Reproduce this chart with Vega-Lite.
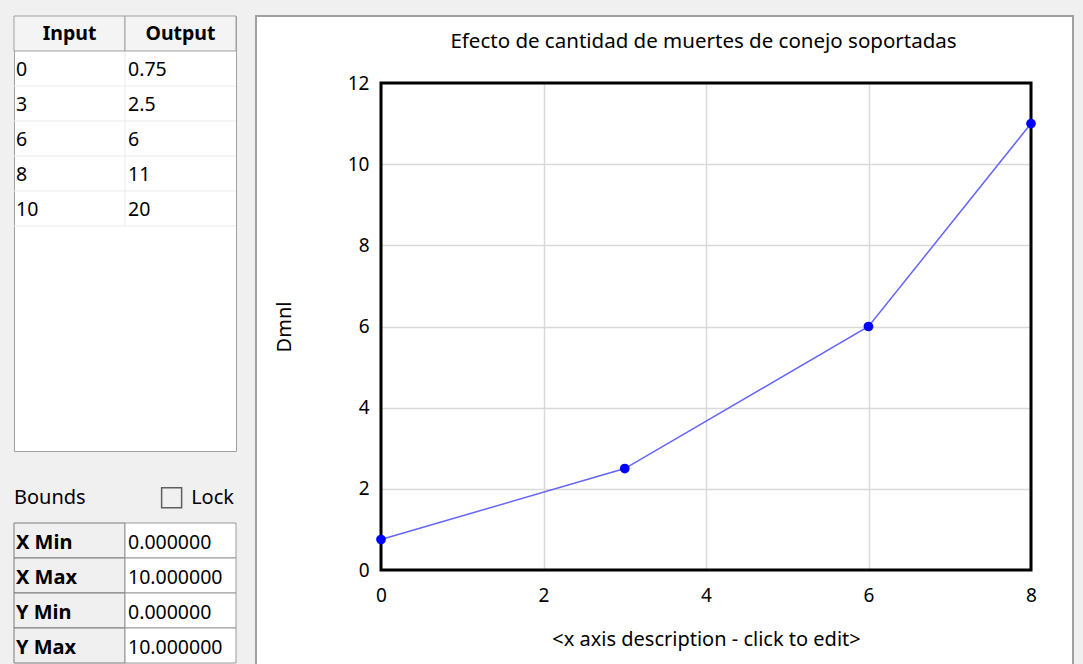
{
  "$schema": "https://vega.github.io/schema/vega-lite/v6.json",
  "background": "#f0f0f0",
  "padding": {"left": 13, "top": 15, "right": 10, "bottom": 0},
  "spacing": 18,
  "config": {
    "font": "Noto Sans",
    "text": {"font": "Noto Sans", "fontSize": 19.5, "fill": "black"}
  },
  "datasets": {
    "lookup": [
      {"input": 0, "output": 0.75},
      {"input": 3, "output": 2.5},
      {"input": 6, "output": 6},
      {"input": 8, "output": 11},
      {"input": 10, "output": 20}
    ],
    "tableHeader": [{"col": "Input"}, {"col": "Output"}],
    "bounds": [
      {"name": "X Min", "value": "0.000000"},
      {"name": "X Max", "value": "10.000000"},
      {"name": "Y Min", "value": "0.000000"},
      {"name": "Y Max", "value": "10.000000"}
    ],
    "boundsPanel": [{"title": "Bounds", "option": "Lock", "checked": false}]
  },
  "hconcat": [
    {
      "spacing": 32,
      "vconcat": [
        {
          "width": 222,
          "height": 435,
          "view": {"fill": "white", "stroke": "#a0a0a0", "strokeWidth": 1},
          "layer": [
            {
              "data": {"name": "lookup"},
              "mark": {"type": "rule", "color": "#ebebeb", "strokeWidth": 1},
              "encoding": {
                "y": {"field": "input", "type": "ordinal", "bandPosition": 1,
                  "scale": {"type": "band", "domain": ["header", 0, 3, 6, 8, 10, "e1", "e2", "e3", "e4", "e5"], "paddingInner": 0, "paddingOuter": 0.715, "align": 0},
                  "axis": null}
              }
            },
            {
              "data": {"name": "tableHeader"},
              "transform": [{"filter": "datum.col === 'Output'"}],
              "mark": {"type": "rule", "color": "#ebebeb", "strokeWidth": 1},
              "encoding": {
                "x": {"field": "col", "type": "nominal", "bandPosition": 0,
                  "scale": {"type": "band", "domain": ["Input", "Output"], "paddingInner": 0, "paddingOuter": 0},
                  "axis": null},
                "y": {"datum": "e1", "type": "ordinal", "bandPosition": 0},
                "y2": {"datum": "header"}
              }
            },
            {
              "data": {"name": "tableHeader"},
              "mark": {"type": "rect", "fill": "#f4f4f4", "stroke": "#a0a0a0", "strokeWidth": 1},
              "encoding": {
                "x": {"field": "col", "type": "nominal"},
                "y": {"datum": "header", "type": "ordinal"}
              }
            },
            {
              "data": {"name": "tableHeader"},
              "mark": {"type": "text", "fontWeight": "bold", "baseline": "middle", "align": "center", "dy": 1},
              "encoding": {
                "x": {"field": "col", "type": "nominal"},
                "y": {"datum": "header", "type": "ordinal"},
                "text": {"field": "col", "type": "nominal"}
              }
            },
            {
              "data": {"name": "lookup"},
              "mark": {"type": "text", "align": "left", "baseline": "middle", "dx": 2, "dy": 2},
              "encoding": {
                "x": {"datum": "Input", "type": "nominal", "bandPosition": 0},
                "y": {"field": "input", "type": "ordinal"},
                "text": {"field": "input", "type": "nominal"}
              }
            },
            {
              "data": {"name": "lookup"},
              "mark": {"type": "text", "align": "left", "baseline": "middle", "dx": 3, "dy": 2},
              "encoding": {
                "x": {"datum": "Output", "type": "nominal", "bandPosition": 0},
                "y": {"field": "input", "type": "ordinal"},
                "text": {"field": "output", "type": "nominal"}
              }
            }
          ]
        },
        {
          "width": 222,
          "height": 175,
          "view": {"stroke": null, "fill": "#f0f0f0"},
          "layer": [
            {
              "data": {"name": "bounds"},
              "mark": {"type": "rect", "fill": "#f0f0f0", "stroke": "#7a7a7a", "strokeWidth": 1},
              "encoding": {
                "x": {"datum": "label", "type": "nominal",
                  "scale": {"type": "band", "domain": ["label", "value"], "paddingInner": 0, "paddingOuter": 0},
                  "axis": null},
                "y": {"field": "name", "type": "ordinal",
                  "scale": {"type": "band", "domain": ["hdr", "X Min", "X Max", "Y Min", "Y Max"], "paddingInner": 0, "paddingOuter": 0},
                  "axis": null}
              }
            },
            {
              "data": {"name": "bounds"},
              "mark": {"type": "rect", "fill": "white", "stroke": "#9a9a9a", "strokeWidth": 1},
              "encoding": {
                "x": {"datum": "value", "type": "nominal"},
                "y": {"field": "name", "type": "ordinal"}
              }
            },
            {
              "data": {"name": "bounds"},
              "mark": {"type": "text", "fontWeight": "bold", "fontSize": 20, "align": "left", "baseline": "middle", "dx": 2, "dy": 2},
              "encoding": {
                "x": {"datum": "label", "type": "nominal", "bandPosition": 0},
                "y": {"field": "name", "type": "ordinal"},
                "text": {"field": "name", "type": "nominal"}
              }
            },
            {
              "data": {"name": "bounds"},
              "mark": {"type": "text", "align": "left", "baseline": "middle", "dx": 3, "dy": 2},
              "encoding": {
                "x": {"datum": "value", "type": "nominal", "bandPosition": 0},
                "y": {"field": "name", "type": "ordinal"},
                "text": {"field": "value", "type": "nominal"}
              }
            },
            {
              "data": {"name": "boundsPanel"},
              "mark": {"type": "text", "align": "left", "baseline": "middle", "fontSize": 20, "dx": 0},
              "encoding": {
                "x": {"datum": "label", "type": "nominal", "bandPosition": 0},
                "y": {"datum": "hdr", "type": "ordinal", "bandPosition": 0.28},
                "text": {"field": "title", "type": "nominal"}
              }
            },
            {
              "data": {"name": "boundsPanel"},
              "mark": {"type": "point", "shape": "square", "size": 400, "filled": false, "stroke": "#5f5f5f", "strokeWidth": 1.5, "opacity": 1},
              "encoding": {
                "x": {"datum": "value", "type": "nominal", "bandPosition": 0.42},
                "y": {"datum": "hdr", "type": "ordinal", "bandPosition": 0.28}
              }
            },
            {
              "data": {"name": "boundsPanel"},
              "mark": {"type": "text", "align": "right", "baseline": "middle", "fontSize": 20, "dx": -2},
              "encoding": {
                "x": {"datum": "value", "type": "nominal", "bandPosition": 1},
                "y": {"datum": "hdr", "type": "ordinal", "bandPosition": 0.28},
                "text": {"field": "option", "type": "nominal"}
              }
            }
          ]
        }
      ]
    },
    {
      "width": 817,
      "height": 660,
      "view": {"fill": "white", "stroke": "#a0a0a0", "strokeWidth": 2},
      "title": {
        "text": "Efecto de cantidad de muertes de conejo soportadas",
        "anchor": "middle", "offset": -46, "dx": 39, "baseline": "middle",
        "fontSize": 20.5, "fontWeight": "normal", "font": "Noto Sans", "color": "black"
      },
      "data": {"name": "lookup"},
      "resolve": {"axis": {"x": "independent"}},
      "layer": [
        {
          "transform": [{"filter": "datum.input === 0"}],
          "mark": {"type": "rect", "fillOpacity": 0, "stroke": "black", "strokeWidth": 3},
          "encoding": {
            "x": {"datum": 0, "type": "quantitative",
              "scale": {"domain": [0, 8], "range": [125, 775], "nice": false, "zero": false},
              "axis": {
                "orient": "top", "title": null, "values": [0, 2, 4, 6, 8],
                "labels": false, "ticks": false, "domain": false,
                "grid": true, "gridColor": "#d9d9d9", "gridWidth": 1.5
              }},
            "x2": {"datum": 8},
            "y": {"datum": 0, "type": "quantitative",
              "scale": {"domain": [0, 12], "range": [554, 67], "nice": false, "zero": false},
              "axis": {
                "title": "Dmnl", "orient": "left", "offset": -125, "format": "d",
                "values": [0, 2, 4, 6, 8, 10, 12], "ticks": false, "tickSize": 0, "domain": false,
                "grid": true, "gridColor": "#d9d9d9", "gridWidth": 1.5,
                "labelPadding": 12, "labelFontSize": 19, "labelColor": "black", "labelFont": "Noto Sans",
                "labelFlush": false, "labelOverlap": false,
                "titleFont": "Noto Sans", "titleFontSize": 20, "titleFontWeight": "normal", "titleColor": "black", "titlePadding": 53
              }},
            "y2": {"datum": 12}
          }
        },
        {
          "transform": [{"filter": "datum.input <= 8"}],
          "mark": {"type": "line", "color": "#6464ff", "strokeWidth": 1.5},
          "encoding": {
            "x": {"field": "input", "type": "quantitative",
              "scale": {"domain": [0, 8], "range": [125, 775], "nice": false, "zero": false},
              "axis": {
                "title": "<x axis description - click to edit>", "orient": "bottom", "offset": -106, "format": "d",
                "values": [0, 2, 4, 6, 8], "ticks": false, "tickSize": 0, "domain": false, "grid": false,
                "labelPadding": 16, "labelFontSize": 19, "labelColor": "black", "labelFont": "Noto Sans",
                "labelFlush": false, "labelOverlap": false,
                "titleFont": "Noto Sans", "titleFontSize": 20, "titleFontWeight": "normal", "titleColor": "black", "titlePadding": 24
              }},
            "y": {"field": "output", "type": "quantitative"}
          }
        },
        {
          "transform": [{"filter": "datum.input <= 8"}],
          "mark": {"type": "point", "filled": true, "color": "#0000ff", "size": 95, "opacity": 1},
          "encoding": {
            "x": {"field": "input", "type": "quantitative", "axis": null},
            "y": {"field": "output", "type": "quantitative"}
          }
        }
      ]
    }
  ]
}
